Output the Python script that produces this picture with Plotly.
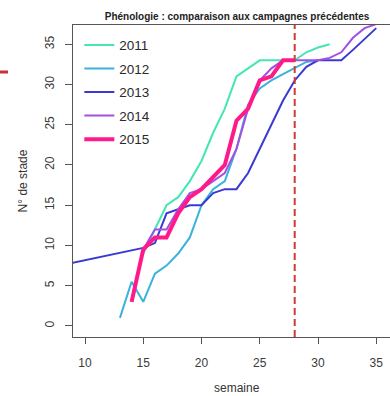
import plotly.graph_objects as go

# Weekly phenological stage per campaign
weeks_2011 = list(range(15, 32))
stade_2011 = [9, 12, 15, 16, 18, 20.5, 24, 27, 31, 32, 33, 33, 33, 33, 34, 34.6, 35]

weeks_2012 = list(range(13, 31))
stade_2012 = [1, 5.5, 3, 6.5, 7.5, 9, 11, 15, 17, 18, 22, 27.5, 29.5, 30.5, 31.3, 32, 32.8, 33]

weeks_2013 = [2] + list(range(15, 36))
stade_2013 = [5.7, 9.7, 10.3, 14, 14.5, 15, 15, 16.5, 17, 17, 19, 22, 25, 28, 30.5,
              32.2, 33, 33, 33, 34.3, 35.7, 37]

weeks_2014 = list(range(15, 36))
stade_2014 = [9.5, 12, 12, 14.5, 16.5, 17, 18, 19, 22, 27, 30.5, 32, 33, 33, 33, 33,
              33.3, 34, 35.8, 37, 37.5]

weeks_2015 = list(range(14, 29))
stade_2015 = [3, 9.5, 11, 11, 14, 16, 17, 18.5, 20, 25.5, 27, 30.5, 31, 33, 33]

current_week = 28

series = [
    ("2011", weeks_2011, stade_2011, "#45e6b5", 2),
    ("2012", weeks_2012, stade_2012, "#3bb2dc", 2),
    ("2013", weeks_2013, stade_2013, "#3a3ad2", 2),
    ("2014", weeks_2014, stade_2014, "#a350e2", 2),
    ("2015", weeks_2015, stade_2015, "#ff1a8c", 4),
]

x_ticks = [10, 15, 20, 25, 30, 35]
y_ticks = [0, 5, 10, 15, 20, 25, 30, 35]

fig = go.Figure()
for name, wx, sy, color, width in series:
    fig.add_trace(go.Scatter(
        x=wx, y=sy, mode="lines", name=name,
        line=dict(color=color, width=width),
        legendgroup=name, cliponaxis=True,
    ))

# current week marker
fig.add_shape(type="line", xref="x", yref="paper",
              x0=current_week, x1=current_week, y0=0, y1=1,
              line=dict(color="#d23a3a", width=2, dash="7px,4px"))

# small red stroke at the far left edge
fig.add_shape(type="line", xref="paper", yref="paper",
              x0=-73 / 317, x1=-65 / 317, y0=(337 - 72) / 312, y1=(337 - 72) / 312,
              line=dict(color="#c8303a", width=3))

font_family = "Liberation Sans, Arial, sans-serif"
axis_font = dict(family=font_family, size=12, color="#3a3a3a")

# x axis title, placed low under the tick labels
fig.add_annotation(text="semaine", xref="paper", yref="paper",
                   x=(237 - 73) / 317, y=(337 - 388) / 312,
                   xanchor="center", yanchor="middle", showarrow=False,
                   font=dict(family=font_family, size=12, color="#333"))

fig.update_layout(
    width=390, height=396,
    margin=dict(l=73, r=0, t=25, b=59),
    paper_bgcolor="white", plot_bgcolor="white",
    showlegend=True,
    legend=dict(
        x=0.02, y=0.985, xanchor="left", yanchor="top",
        bgcolor="rgba(0,0,0,0)", borderwidth=0,
        font=dict(family=font_family, size=13.5, color="#2a2a2a"),
        tracegroupgap=3, itemwidth=30,
    ),
    title=dict(
        text="<b>Phénologie : comparaison aux campagnes précédentes</b>",
        x=237 / 390, xanchor="center", y=1 - 16 / 396, yanchor="middle",
        font=dict(family=font_family, size=10, color="#222"),
    ),
    xaxis=dict(
        range=[8.97, 36.18], tickvals=x_ticks, ticks="outside", ticklen=6,
        tickcolor="#555", tickwidth=1.3, showgrid=False, zeroline=False,
        showline=True, linecolor="#555", linewidth=1.3, mirror=True,
        tickfont=axis_font, ticklabelstandoff=8, automargin=False,
    ),
    yaxis=dict(
        range=[-1.37, 37.39], tickvals=y_ticks, ticks="outside", ticklen=7,
        tickcolor="#555", tickwidth=1.3, showgrid=False, zeroline=False,
        showline=True, linecolor="#555", linewidth=1.3, mirror=False,
        tickfont=axis_font, tickangle=-90, ticklabelstandoff=6, automargin=False,
        title=dict(text="N° de stade", font=dict(family=font_family, size=12, color="#333"),
                   standoff=12),
    ),
)

fig.write_html("out.html")
